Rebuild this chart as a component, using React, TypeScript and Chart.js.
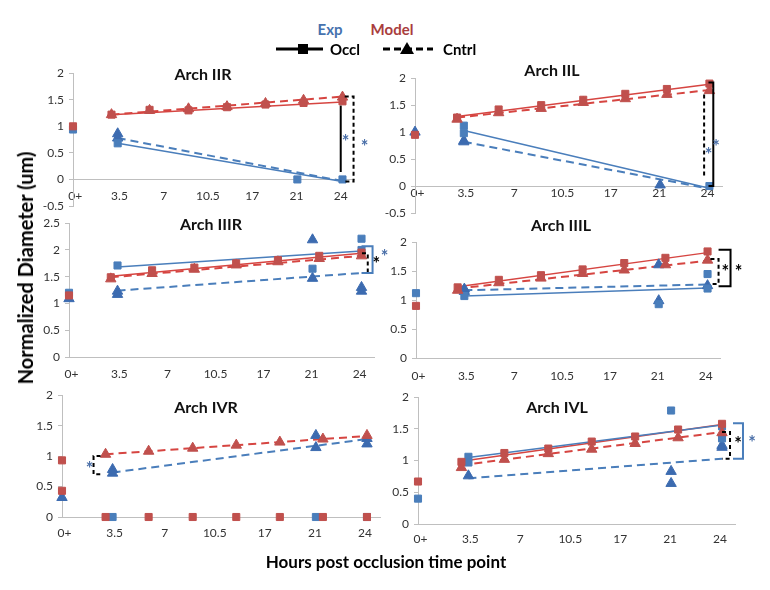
import { useEffect, useRef } from "react";
import { Chart, registerables } from "chart.js";

Chart.register(...registerables);

const FONT = "Lato, 'Open Sans', sans-serif";

// ---------------- data ----------------
const tickLabels = ["0+", "3.5", "7", "10.5", "17", "21", "24"];
const panelTitles = ["Arch IIR", "Arch IIL", "Arch IIIR", "Arch IIIL", "Arch IVR", "Arch IVL"];
// positions (in tick-slot units) of measured time points 0+, 3.5, 21, 24
const expTimes = [-0.05, 0.96, 5.02, 6.04];
// positions of the model time steps (3.5 ... 24)
const modelTimes = [0.82, 1.68, 2.56, 3.43, 4.3, 5.16, 6.04];
const yMin = [-0.5, -0.5, 0, 0, 0, 0];
const yMax = [2, 2, 2.5, 2, 2, 2];

// Exp, occluded (squares): per panel, per time point (0+, 3.5, 21, 24)
const expOccl = [
  [[0.94], [0.68], [0.0], [0.0]],
  [[], [1.12, 0.98], [], [0.0]],
  [[1.2], [1.71], [1.65], [2.21, 2.0]],
  [[1.12], [1.07], [0.93], [1.45, 1.2]],
  [[], [0.0], [0.0], [0.0]],
  [[0.4], [1.06, 0.97], [1.79], [1.54, 1.35]],
];
// Exp, control (triangles)
const expCntrl = [
  [[], [0.86, 0.78], [], []],
  [[1.0], [0.84, 0.82], [0.02], []],
  [[1.09], [1.23, 1.17], [2.19, 1.47], [1.3, 1.23]],
  [[], [1.19, 1.15], [1.61, 0.99], [1.25]],
  [[0.32], [0.78, 0.72], [1.34, 1.14], [1.29, 1.2]],
  [[], [0.76], [0.83, 0.64], [1.24, 1.21]],
];
// Model, occluded at 0+
const modelOcclStart = [[1.0], [0.95], [1.15], [0.9], [0.93, 0.43], [0.67]];
// Model, occluded (squares) at model steps
const modelOccl = [
  [1.22, 1.31, 1.3, 1.36, 1.41, 1.44, 1.47],
  [1.27, 1.42, 1.5, 1.6, 1.71, 1.8, 1.9],
  [1.49, 1.62, 1.67, 1.75, 1.81, 1.89, 1.95],
  [1.22, 1.35, 1.43, 1.53, 1.64, 1.73, 1.84],
  [0, 0, 0, 0, 0, 0, 0],
  [0.98, 1.12, 1.19, 1.3, 1.38, 1.49, 1.58],
];
// Model, control (triangles)
const modelCntrl = [
  [1.22, 1.3, 1.33, 1.37, 1.43, 1.49, 1.55],
  [1.24, 1.36, 1.44, 1.55, 1.62, 1.7, 1.77],
  [1.46, 1.56, 1.64, 1.72, 1.78, 1.84, 1.89],
  [1.17, 1.3, 1.38, 1.46, 1.52, 1.61, 1.69],
  [1.03, 1.08, 1.13, 1.18, 1.23, 1.28, 1.34],
  [0.89, 1.02, 1.11, 1.18, 1.27, 1.36, 1.44],
];
// linear trend lines: [value at start, value at 24]
const expOcclFit = [[0.68, -0.04], [1.03, -0.04], [1.68, 1.98], [1.07, 1.21], null, [1.05, 1.56]];
const expCntrlFit = [[0.78, -0.03], [0.82, -0.05], [1.24, 1.57], [1.17, 1.27], [0.73, 1.28], [0.72, 1.03]];
const modelOcclFit = [[1.22, 1.46], [1.29, 1.89], [1.51, 1.94], [1.23, 1.82], null, [0.99, 1.57]];
const modelCntrlFit = [[1.22, 1.56], [1.27, 1.78], [1.49, 1.89], [1.2, 1.68], [1.03, 1.33], [0.93, 1.45]];

// significance brackets (x in tick-slot units, values on y axis)
const brackets = [
  [
    { x: 6.0, top: 1.39, bottom: 0.14, arm: 0, dashed: false, blue: false },
    { x: 6.29, top: 1.56, bottom: -0.04, arm: -0.2, dashed: true, blue: false },
  ],
  [
    { x: 6.12, top: 1.92, bottom: 0.0, arm: -0.1, dashed: false, blue: false },
    { x: 5.93, top: 1.7, bottom: 0.17, arm: 0, dashed: true, blue: false },
  ],
  [
    { x: 6.17, top: 1.94, bottom: 1.57, arm: -0.12, dashed: true, blue: false },
    { x: 6.27, top: 2.07, bottom: 1.57, arm: -0.23, dashed: false, blue: true },
  ],
  [
    { x: 6.27, top: 1.71, bottom: 1.28, arm: -0.17, dashed: true, blue: false },
    { x: 6.52, top: 1.87, bottom: 1.24, arm: -0.25, dashed: false, blue: false },
  ],
  [{ x: 0.58, top: 1.0, bottom: 0.7, arm: 0.14, dashed: true, blue: false }],
  [
    { x: 6.2, top: 1.45, bottom: 1.03, arm: -0.16, dashed: true, blue: false },
    { x: 6.46, top: 1.59, bottom: 1.03, arm: -0.2, dashed: false, blue: true },
  ],
];
const stars = [
  [{ x: 6.11, y: 0.77, blue: true }, { x: 6.54, y: 0.68, blue: true }],
  [{ x: 6.02, y: 0.64, blue: true }, { x: 6.18, y: 0.8, blue: true }],
  [{ x: 6.35, y: 1.81, blue: false }, { x: 6.52, y: 1.94, blue: true }],
  [{ x: 6.41, y: 1.55, blue: false }, { x: 6.69, y: 1.55, blue: false }],
  [{ x: 0.5, y: 0.85, blue: true }],
  [{ x: 6.36, y: 1.32, blue: false }, { x: 6.64, y: 1.34, blue: true }],
];

// ---------------- layout / style ----------------
const BLUE = "#4a7ebb";
const BLUE_TRI = "#3c6bb0";
const RED = "#c0504d";
const RED_LINE = "#d64541";
const AXIS = "#bfbfbf";
const STAR_BLUE = "#4a6fa8";

// plot rectangle of each panel on the page [left, top, right, bottom]
const boxes = [
  [73, 73, 354, 206],
  [415, 78, 722, 213],
  [69, 223, 374, 357],
  [416, 242, 720, 358],
  [62, 395, 380, 517],
  [418, 397, 735, 524],
];
const labelGap = [9, 0, 10, 11, 9, 8];
const titlePos = [
  [203, 73],
  [552, 69],
  [211, 223],
  [561, 224],
  [206, 406],
  [557, 406],
];
const AXIS_W = 50;
const PAD_T = 12;
const PAD_R = 45;
const PAD_B = 30;

type P = { x: number; y: number };

function groupPoints(groups: number[][], times: number[]): P[] {
  const out: P[] = [];
  groups.forEach((vals, k) => vals.forEach((v) => out.push({ x: times[k], y: v })));
  return out;
}

function Panel({ i }: { i: number }) {
  const ref = useRef<HTMLCanvasElement | null>(null);
  const [l, t, r, b] = boxes[i];
  const w = r - l + AXIS_W + PAD_R;
  const h = b - t + PAD_T + PAD_B;

  useEffect(() => {
    const canvas = ref.current;
    if (!canvas) return;

    const fit = (vals: number[] | null, x0: number, x1: number): P[] =>
      vals ? [{ x: x0, y: vals[0] }, { x: x1, y: vals[1] }] : [];

    const markerBase = { showLine: false, clip: false as any, borderWidth: 1 };
    const lineBase = { showLine: true, pointRadius: 0, clip: false as any, order: 10 };

    const datasets: any[] = [
      {
        ...lineBase,
        label: "Exp Occl fit",
        data: fit(expOcclFit[i], expTimes[1], expTimes[3]),
        borderColor: BLUE,
        borderWidth: 1.5,
      },
      {
        ...lineBase,
        label: "Exp Cntrl fit",
        data: fit(expCntrlFit[i], expTimes[1], expTimes[3]),
        borderColor: BLUE,
        borderWidth: 2,
        borderDash: [8, 5],
      },
      {
        ...lineBase,
        label: "Model Occl fit",
        data: fit(modelOcclFit[i], modelTimes[0], modelTimes[6]),
        borderColor: RED_LINE,
        borderWidth: 1.5,
      },
      {
        ...lineBase,
        label: "Model Cntrl fit",
        data: fit(modelCntrlFit[i], modelTimes[0], modelTimes[6]),
        borderColor: RED_LINE,
        borderWidth: 2,
        borderDash: [8, 5],
      },
      {
        ...markerBase,
        label: "Exp Cntrl",
        order: 5,
        data: groupPoints(expCntrl[i], expTimes),
        pointStyle: "triangle",
        pointRadius: 6,
        backgroundColor: BLUE_TRI,
        borderColor: BLUE_TRI,
      },
      {
        ...markerBase,
        label: "Exp Occl",
        order: 4,
        data: groupPoints(expOccl[i], expTimes),
        pointStyle: "rect",
        pointRadius: 5,
        backgroundColor: BLUE,
        borderColor: BLUE,
      },
      {
        ...markerBase,
        label: "Model Cntrl",
        order: 3,
        data: modelCntrl[i].map((v, k) => ({ x: modelTimes[k], y: v })),
        pointStyle: "triangle",
        pointRadius: 6,
        backgroundColor: RED,
        borderColor: RED,
      },
      {
        ...markerBase,
        label: "Model Occl",
        order: 2,
        data: [
          ...modelOcclStart[i].map((v) => ({ x: expTimes[0], y: v })),
          ...modelOccl[i].map((v, k) => ({ x: modelTimes[k], y: v })),
        ],
        pointStyle: "rect",
        pointRadius: 5,
        backgroundColor: RED,
        borderColor: RED,
      },
    ];

    const annot = {
      id: "brackets",
      afterDatasetsDraw(chart: any) {
        const { ctx } = chart;
        const xs = chart.scales.x;
        const ys = chart.scales.y;
        ctx.save();
        for (const bk of brackets[i]) {
          const px = xs.getPixelForValue(bk.x);
          const p1 = ys.getPixelForValue(bk.top);
          const p2 = ys.getPixelForValue(bk.bottom);
          ctx.strokeStyle = bk.blue ? BLUE : "#000";
          ctx.lineWidth = 2;
          ctx.setLineDash(bk.dashed ? [4, 3] : []);
          ctx.beginPath();
          if (bk.arm) {
            const ax = xs.getPixelForValue(bk.x + bk.arm);
            ctx.moveTo(ax, p1);
            ctx.lineTo(px, p1);
            ctx.lineTo(px, p2);
            ctx.lineTo(ax, p2);
          } else {
            ctx.moveTo(px, p1);
            ctx.lineTo(px, p2);
          }
          ctx.stroke();
        }
        ctx.setLineDash([]);
        ctx.font = `bold 18px ${FONT}`;
        ctx.textAlign = "center";
        ctx.textBaseline = "middle";
        for (const s of stars[i]) {
          ctx.fillStyle = s.blue ? STAR_BLUE : "#000";
          ctx.fillText("*", xs.getPixelForValue(s.x), ys.getPixelForValue(s.y) + 4);
        }
        ctx.restore();
      },
    };

    const tickFont = { family: FONT, size: 12 };
    const chart = new Chart(canvas, {
      type: "scatter",
      data: { datasets },
      options: {
        animation: false,
        responsive: false,
        devicePixelRatio: 1,
        events: [],
        layout: { padding: { left: 0, top: PAD_T, right: PAD_R, bottom: PAD_B } },
        plugins: {
          legend: { display: false },
          tooltip: { enabled: false },
          title: { display: false },
        },
        scales: {
          x: {
            type: "linear",
            position: { y: 0 } as any,
            min: -0.05,
            max: 6.3,
            afterFit: (s: any) => {
              s.height = 0;
            },
            afterBuildTicks: (s: any) => {
              s.ticks = tickLabels.map((_, k) => ({ value: k }));
            },
            grid: { display: false, drawTicks: false },
            border: { display: true, color: AXIS, width: 1 },
            ticks: {
              autoSkip: false,
              maxRotation: 0,
              minRotation: 0,
              padding: labelGap[i],
              color: "#333",
              font: tickFont,
              callback: (v: any) => tickLabels[v] ?? "",
            },
          },
          y: {
            type: "linear",
            min: yMin[i],
            max: yMax[i],
            afterFit: (s: any) => {
              s.width = AXIS_W;
            },
            grid: { drawOnChartArea: false, drawTicks: true, tickLength: 4, color: AXIS },
            border: { display: true, color: AXIS, width: 1 },
            ticks: {
              stepSize: 0.5,
              padding: 5,
              color: "#333",
              font: tickFont,
              callback: (v: any) => String(v),
            },
          },
        },
      } as any,
      plugins: [annot],
    });
    return () => chart.destroy();
  }, [i]);

  return (
    <canvas
      ref={ref}
      width={w}
      height={h}
      style={{ position: "absolute", left: l - AXIS_W, top: t - PAD_T, width: w, height: h }}
    />
  );
}

export default function App() {
  return (
    <div
      style={{
        position: "absolute",
        left: 0,
        top: 0,
        width: 770,
        height: 590,
        background: "#fff",
        fontFamily: FONT,
        overflow: "hidden",
      }}
    >
      {boxes.map((_, i) => (
        <Panel key={i} i={i} />
      ))}
      {panelTitles.map((title, i) => (
        <div
          key={title}
          style={{
            position: "absolute",
            left: titlePos[i][0],
            top: titlePos[i][1],
            transform: "translate(-50%, -50%)",
            fontWeight: 700,
            fontSize: 16,
            whiteSpace: "nowrap",
            color: "#111",
          }}
        >
          {title}
        </div>
      ))}

      {/* legend */}
      <div style={{ position: "absolute", left: 330, top: 29, transform: "translate(-50%,-50%)", fontWeight: 700, fontSize: 15, color: "#4672ae" }}>
        Exp
      </div>
      <div style={{ position: "absolute", left: 392, top: 29, transform: "translate(-50%,-50%)", fontWeight: 700, fontSize: 15, color: "#a93d3d" }}>
        Model
      </div>
      <svg width={770} height={70} style={{ position: "absolute", left: 0, top: 0 }}>
        <line x1={276} y1={49} x2={323} y2={49} stroke="#000" strokeWidth={3} />
        <rect x={298} y={44} width={10} height={10} fill="#000" />
        <line x1={383} y1={49} x2={433} y2={49} stroke="#000" strokeWidth={3} strokeDasharray="7 4" />
        <polygon points="407,42 414,54 400,54" fill="#000" />
      </svg>
      <div style={{ position: "absolute", left: 330, top: 49, transform: "translateY(-50%)", fontWeight: 700, fontSize: 15, color: "#000" }}>
        Occl
      </div>
      <div style={{ position: "absolute", left: 443, top: 49, transform: "translateY(-50%)", fontWeight: 700, fontSize: 15, color: "#000" }}>
        Cntrl
      </div>

      {/* axis titles */}
      <div
        style={{
          position: "absolute",
          left: 25,
          top: 268,
          transform: "translate(-50%,-50%) rotate(-90deg)",
          fontWeight: 700,
          fontSize: 20,
          whiteSpace: "nowrap",
          color: "#000",
        }}
      >
        Normalized Diameter (um)
      </div>
      <div
        style={{
          position: "absolute",
          left: 386,
          top: 561,
          transform: "translate(-50%,-50%)",
          fontWeight: 700,
          fontSize: 17,
          whiteSpace: "nowrap",
          color: "#000",
        }}
      >
        Hours post occlusion time point
      </div>
    </div>
  );
}
